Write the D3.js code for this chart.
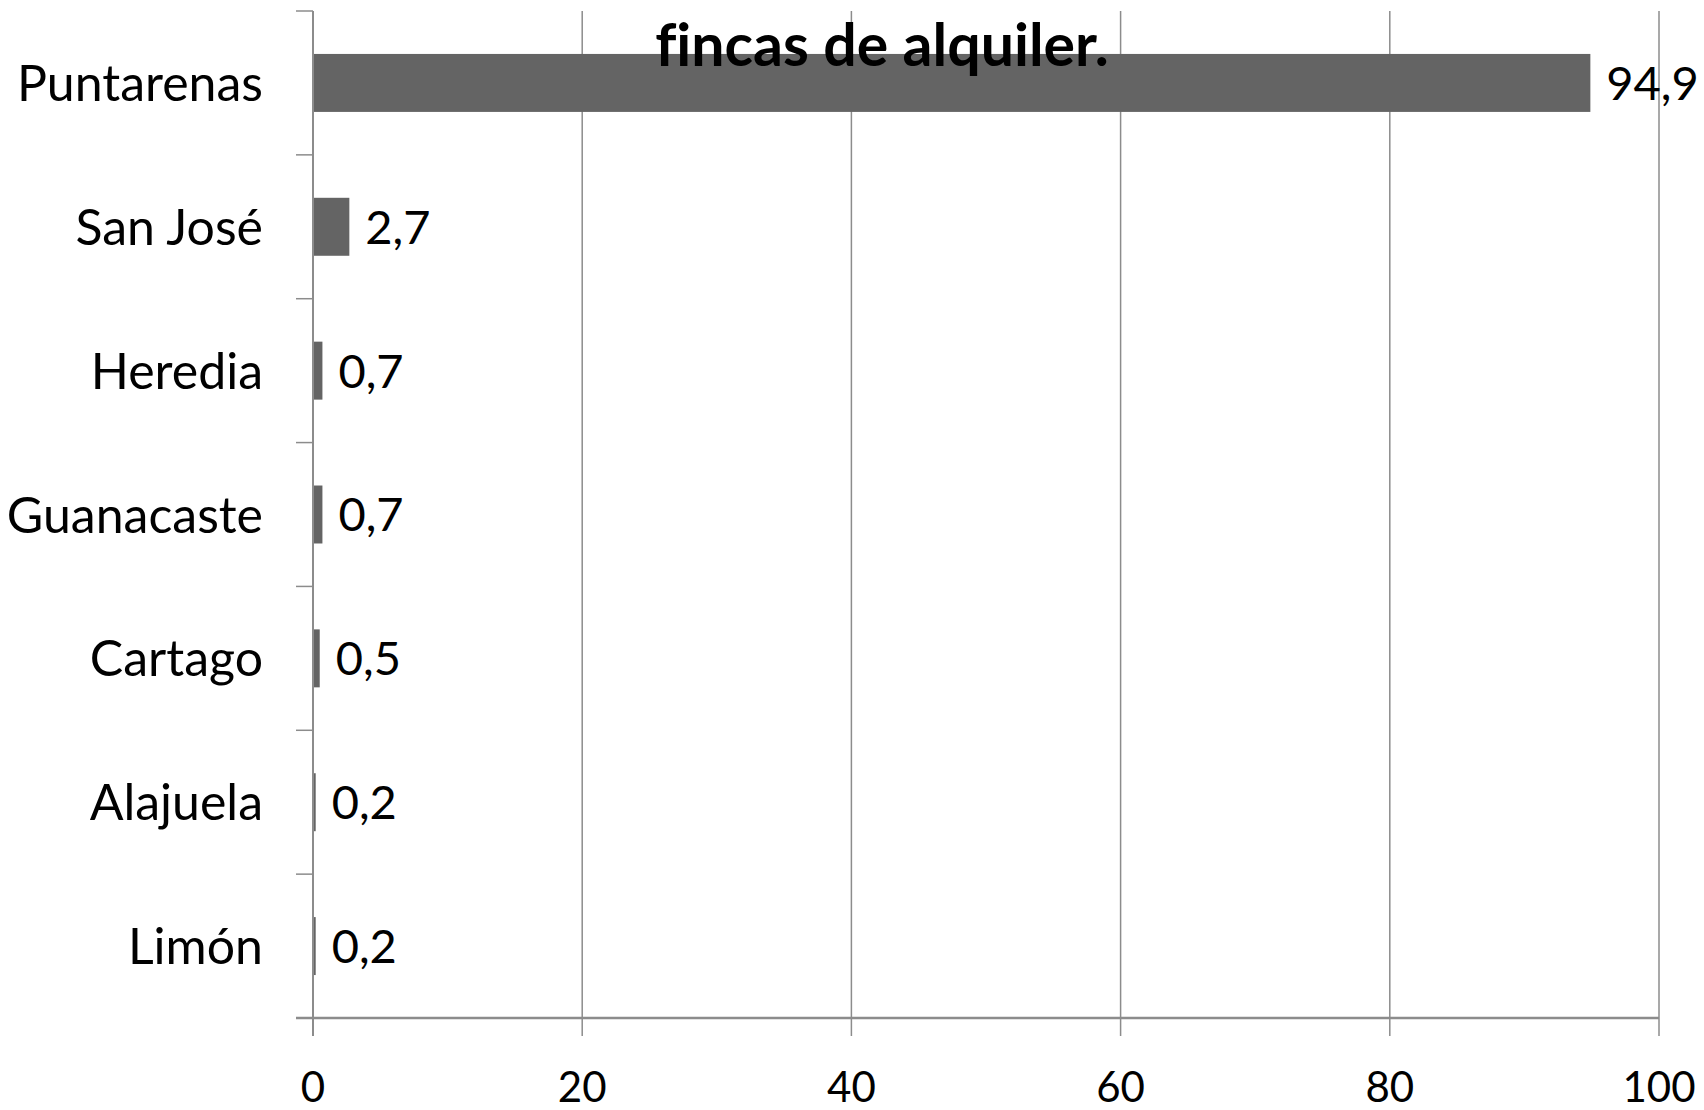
<!DOCTYPE html>
<html>
<head>
<meta charset="utf-8">
<script src="https://cdn.jsdelivr.net/npm/d3@7"></script>
<style>
  body { margin: 0; background: #fff; }
  svg { display: block; }
  text { font-family: Lato, "Open Sans", sans-serif; fill: #000; font-variant-ligatures: none; }
</style>
</head>
<body>
<div id="chart"></div>
<script>
// data
var provincias = ["Puntarenas", "San José", "Heredia", "Guanacaste", "Cartago", "Alajuela", "Limón"];
var porcentajes = [94.9, 2.7, 0.7, 0.7, 0.5, 0.2, 0.2];
var etiquetas = ["94,9", "2,7", "0,7", "0,7", "0,5", "0,2", "0,2"];
var xTicks = [0, 20, 40, 60, 80, 100];
var titulo = "fincas de alquiler.";

var w = 1704;
var h = 1110;
var plotLeft = 313, plotRight = 1659, plotTop = 11, plotBottom = 1018;

var svg = d3.select("#chart")
  .append("svg")
  .attr("width", w)
  .attr("height", h);

var xScale = d3.scaleLinear()
  .domain([0, 100])
  .range([plotLeft, plotRight]);

var yScale = d3.scaleBand()
  .domain(provincias)
  .range([plotTop, plotBottom])
  .paddingInner(0.597)
  .paddingOuter(0.2985);

// vertical gridlines (running past the axis as ticks)
svg.selectAll(".grid")
  .data(xTicks)
  .enter()
  .append("line")
  .attr("class", "grid")
  .attr("x1", (d) => xScale(d))
  .attr("x2", (d) => xScale(d))
  .attr("y1", plotTop)
  .attr("y2", plotBottom + 18)
  .attr("stroke", "#8c8c8c")
  .attr("stroke-width", 1.5);

// category ticks on the y axis
var step = yScale.step();
svg.selectAll(".ytick")
  .data(d3.range(provincias.length + 1))
  .enter()
  .append("line")
  .attr("class", "ytick")
  .attr("x1", plotLeft - 17)
  .attr("x2", plotLeft)
  .attr("y1", (d) => plotTop + d * step)
  .attr("y2", (d) => plotTop + d * step)
  .attr("stroke", "#8c8c8c")
  .attr("stroke-width", 1.5);

// bars
svg.selectAll(".bar")
  .data(porcentajes)
  .enter()
  .append("rect")
  .attr("class", "bar")
  .attr("x", xScale(0))
  .attr("y", (d, i) => yScale(provincias[i]))
  .attr("width", (d) => xScale(d) - xScale(0))
  .attr("height", yScale.bandwidth())
  .attr("fill", "#646464");

// axis lines
svg.append("line")
  .attr("x1", plotLeft).attr("x2", plotLeft)
  .attr("y1", plotTop).attr("y2", plotBottom + 18)
  .attr("stroke", "#8c8c8c")
  .attr("stroke-width", 2);

svg.append("line")
  .attr("x1", plotLeft - 17).attr("x2", plotRight)
  .attr("y1", plotBottom).attr("y2", plotBottom)
  .attr("stroke", "#8c8c8c")
  .attr("stroke-width", 2.5);

// category labels
svg.selectAll(".cat")
  .data(provincias)
  .enter()
  .append("text")
  .attr("class", "cat")
  .text((d) => d)
  .attr("x", plotLeft - 50)
  .attr("y", (d) => yScale(d) + yScale.bandwidth() / 2)
  .attr("dy", "0.36em")
  .attr("text-anchor", "end")
  .attr("font-size", "50px");

// value labels
svg.selectAll(".val")
  .data(porcentajes)
  .enter()
  .append("text")
  .attr("class", "val")
  .text((d, i) => etiquetas[i])
  .attr("x", (d) => xScale(d) + 16)
  .attr("y", (d, i) => yScale(provincias[i]) + yScale.bandwidth() / 2)
  .attr("dy", "0.36em")
  .attr("font-size", "47px");

// x tick labels
svg.selectAll(".xlab")
  .data(xTicks)
  .enter()
  .append("text")
  .attr("class", "xlab")
  .text((d) => d)
  .attr("x", (d) => xScale(d))
  .attr("y", 1087)
  .attr("dy", "0.36em")
  .attr("text-anchor", "middle")
  .attr("font-size", "42px");

// title (second line; the first is cut off at the top)
svg.append("text")
  .text(titulo)
  .attr("x", 882)
  .attr("y", 66)
  .attr("text-anchor", "middle")
  .attr("font-weight", "bold")
  .attr("font-size", "59px");
</script>
</body>
</html>
